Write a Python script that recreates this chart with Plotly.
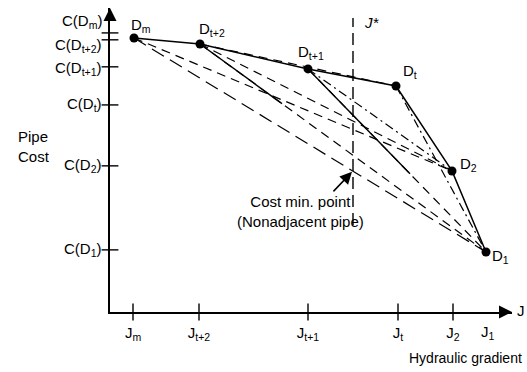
import plotly.graph_objects as go

# ---- data (arbitrary schematic units) ----
pipe_names = ["D<sub>m</sub>", "D<sub>t+2</sub>", "D<sub>t+1</sub>", "D<sub>t</sub>", "D<sub>2</sub>", "D<sub>1</sub>"]
pipe_J = [6.0, 22.5, 49.5, 71.5, 85.5, 94.0]          # hydraulic gradient
pipe_C = [91.3, 89.3, 81.0, 75.3, 47.0, 20.0]         # pipe cost

xtick_vals = [5.75, 22.25, 49.5, 72.0, 85.75]
xtick_text = ["J<sub>m</sub>", "J<sub>t+2</sub>", "J<sub>t+1</sub>", "J<sub>t</sub>", "J<sub>2</sub>"]
j1_label_pos = 94.5

ytick_vals = [93.0, 90.7, 81.7, 69.0, 48.7, 20.7]
ytick_text = ["C(D<sub>m</sub>)", "C(D<sub>t+2</sub>)", "C(D<sub>t+1</sub>)", "C(D<sub>t</sub>)", "C(D<sub>2</sub>)", "C(D<sub>1</sub>)"]
ytick_label_pos = [96.7, 88.7, 81.3, 69.3, 48.7, 20.7]

# connecting lines between pipe points: (from index, to index, dash style, solid-until J or None)
links = [
    (0, 4, "dash", None),
    (0, 5, "longdash", None),
    (1, 3, "dash", None),
    (1, 4, "dash", None),
    (1, 5, "dash", 43.0),
    (2, 4, "dashdot", None),
    (2, 5, "dash", 75.0),
    (3, 5, "dashdot", None),
]
dash_styles = {"dash": "9px,6px", "longdash": "14px,7px", "dashdot": "9px,4px,2px,4px"}

J_star = 60.75
J_star_span = [29.0, 98.0]
J_star_label = (65.5, 96.5)
cost_min_point = (60.5, 46.7)
arrow_tail = (55.5, 39.7)
cost_min_text_J = 47.5

x_range = [0, 100.5]
y_range = [0, 101.3]

fig = go.Figure()

FONT = "Liberation Sans, Arial, sans-serif"

def seg(i, j, jmax=None):
    x0, y0 = pipe_J[i], pipe_C[i]
    x1, y1 = pipe_J[j], pipe_C[j]
    if jmax is None:
        return [x0, x1], [y0, y1]
    t = (jmax - x0) / (x1 - x0)
    return [x0, jmax], [y0, y0 + t * (y1 - y0)]

# non-hull lines
for i, j, dash, solid_to in links:
    xs, ys = seg(i, j)
    fig.add_trace(go.Scatter(x=xs, y=ys, mode="lines",
                             line=dict(color="black", width=1.2, dash=dash_styles[dash]),
                             hoverinfo="skip", showlegend=False))
    if solid_to is not None:
        xs, ys = seg(i, j, solid_to)
        fig.add_trace(go.Scatter(x=xs, y=ys, mode="lines",
                                 line=dict(color="black", width=1.4),
                                 hoverinfo="skip", showlegend=False))

# lower hull (solid) with points
fig.add_trace(go.Scatter(x=pipe_J, y=pipe_C, mode="lines+markers",
                         line=dict(color="black", width=1.5),
                         marker=dict(color="black", size=9),
                         hoverinfo="skip", showlegend=False, cliponaxis=False))

# J* vertical dashed line
fig.add_trace(go.Scatter(x=[J_star, J_star], y=J_star_span, mode="lines",
                         line=dict(color="black", width=1.4, dash="12px,6px"),
                         hoverinfo="skip", showlegend=False, cliponaxis=False))

# crossing tick marks
fig.add_trace(go.Scatter(x=xtick_vals, y=[0] * len(xtick_vals), mode="markers",
                         marker=dict(symbol="line-ns", size=12, line=dict(color="black", width=1.4)),
                         hoverinfo="skip", showlegend=False, cliponaxis=False))
fig.add_trace(go.Scatter(x=[0] * len(ytick_vals), y=ytick_vals, mode="markers",
                         marker=dict(symbol="line-ew", size=12, line=dict(color="black", width=1.4)),
                         hoverinfo="skip", showlegend=False, cliponaxis=False))

annotations = []
# y tick labels (placed as in the reference, slightly spread near the top)
for txt, y in zip(ytick_text, ytick_label_pos):
    annotations.append(dict(x=0, y=y, text=txt, showarrow=False, xanchor="right", xshift=-6,
                            font=dict(size=15, family=FONT, color="black")))

# point labels
label_offsets = [(7, -13), (12, -15), (3, -16), (14, -15), (16, -6), (14, 5)]
for name, x, y, (dx, dy) in zip(pipe_names, pipe_J, pipe_C, label_offsets):
    annotations.append(dict(x=x, y=y, text=name, showarrow=False, xshift=dx, yshift=-dy,
                            font=dict(size=15, family=FONT, color="black")))

# J* label
annotations.append(dict(x=J_star_label[0], y=J_star_label[1], text="<i>J*</i>", showarrow=False,
                        font=dict(size=15, family=FONT, color="black")))

# cost min arrow
annotations.append(dict(x=cost_min_point[0], y=cost_min_point[1], ax=arrow_tail[0], ay=arrow_tail[1],
                        axref="x", ayref="y", xref="x", yref="y", text="", showarrow=True,
                        arrowhead=2, arrowsize=1.6, arrowwidth=1.5, arrowcolor="black"))
annotations.append(dict(x=cost_min_text_J, y=arrow_tail[1], text="Cost min. point<br>(Nonadjacent pipe)",
                        showarrow=False, yanchor="top", yshift=2, align="center",
                        font=dict(size=15, family=FONT, color="black")))

# axis arrows
annotations.append(dict(x=x_range[1], y=0, ax=x_range[1] - 3, ay=0, axref="x", ayref="y",
                        text="", showarrow=True, arrowhead=2, arrowsize=1.3, arrowwidth=2, arrowcolor="black"))
annotations.append(dict(x=0, y=y_range[1], ax=0, ay=y_range[1] - 3, axref="x", ayref="y",
                        text="", showarrow=True, arrowhead=2, arrowsize=1.3, arrowwidth=2, arrowcolor="black"))

# J label at axis end, J1 tick label, axis titles
annotations.append(dict(x=x_range[1], y=0, text="J", showarrow=False, xanchor="left", xshift=3, yshift=2,
                        font=dict(size=15, family=FONT, color="black")))
annotations.append(dict(x=j1_label_pos, y=0, text="J<sub>1</sub>", showarrow=False, yanchor="top", yshift=-9,
                        font=dict(size=15, family=FONT, color="black")))
annotations.append(dict(xref="paper", yref="paper", x=1.03, y=-0.152, text="Hydraulic gradient",
                        showarrow=False, xanchor="right", yanchor="middle",
                        font=dict(size=14, family=FONT, color="black")))
annotations.append(dict(xref="paper", yref="paper", x=-0.19, y=0.545, text="Pipe<br>Cost", showarrow=False,
                        xanchor="center", align="left", font=dict(size=15, family=FONT, color="black")))

fig.update_layout(
    width=527, height=372,
    margin=dict(l=110, r=15, t=8, b=60),
    plot_bgcolor="white", paper_bgcolor="white",
    annotations=annotations,
    xaxis=dict(range=x_range, showgrid=False, zeroline=False, showline=True, linecolor="black",
               linewidth=2, tickvals=xtick_vals, ticktext=xtick_text, ticks="outside", ticklen=6,
               tickcolor="rgba(0,0,0,0)", tickfont=dict(size=15, family=FONT, color="black"),
               fixedrange=True, automargin=False),
    yaxis=dict(range=y_range, showgrid=False, zeroline=False, showline=True, linecolor="black",
               linewidth=2, tickvals=ytick_vals, showticklabels=False, ticks="",
               fixedrange=True, automargin=False),
)

fig.write_html("out.html", config={"displayModeBar": False},
               post_script="document.body.style.margin='0';document.body.style.padding='0';")
